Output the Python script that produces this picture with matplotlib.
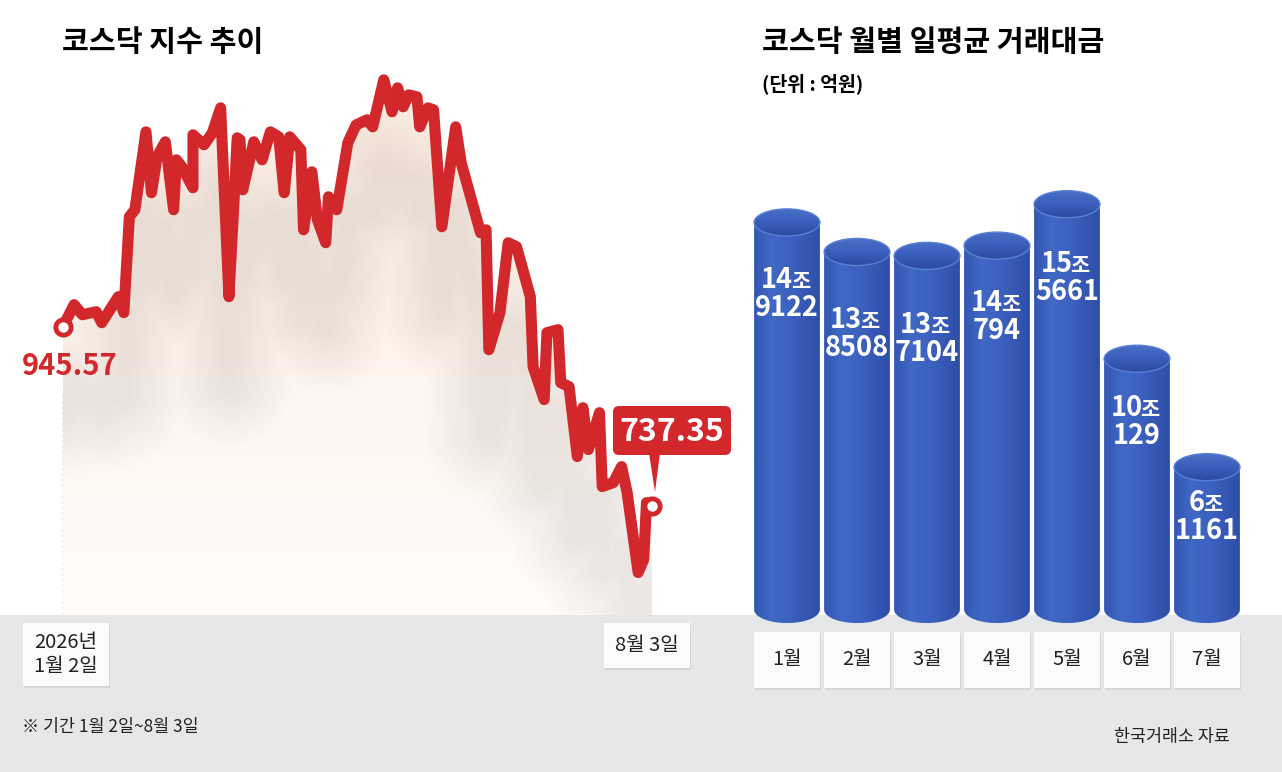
import matplotlib
matplotlib.use('Agg')
import numpy as np
import matplotlib.pyplot as plt
from matplotlib.patches import Rectangle, Ellipse, FancyBboxPatch, Polygon
from matplotlib.colors import LinearSegmentedColormap
from matplotlib.transforms import blended_transform_factory, ScaledTranslation
from matplotlib.textpath import TextPath
from matplotlib.font_manager import FontProperties

plt.rcParams['font.family'] = ['Noto Sans CJK KR', 'DejaVu Sans']

# KOSDAQ index, days since 2026-01-02
days = [0, 4, 7, 12, 14, 20, 22, 24, 26, 30, 32, 34, 37, 40, 41, 43, 47, 47,
        51, 54, 57, 60, 62, 63, 64, 65, 69, 72, 75, 78, 80, 82, 86, 87, 90,
        92, 95, 96, 99, 103, 106, 110, 112, 116, 119, 121, 123, 125, 128, 129,
        132, 134, 137, 142, 144, 151, 153, 154, 158, 161, 164, 169, 170, 174,
        175, 179, 180, 183, 186, 188, 190, 194, 195, 199, 202, 204, 208, 210,
        211, 213]
kosdaq = [945.57, 971.2, 959.5, 963.0, 950.2, 980.5, 961.9, 1073.5, 1081.7,
          1172.4, 1101.5, 1143.3, 1160.8, 1081.7, 1139.8, 1131.7, 1107.3,
          1168.9, 1157.3, 1171.2, 1200.3, 980.5, 1101.5, 1165.4, 1163.1,
          1104.9, 1160.8, 1139.8, 1172.4, 1166.6, 1101.5, 1166.6, 1151.5,
          1058.4, 1125.9, 1070.0, 1043.3, 1096.8, 1081.7, 1159.6, 1180.5,
          1186.4, 1178.2, 1232.9, 1195.7, 1223.6, 1201.5, 1215.4, 1213.1,
          1178.2, 1200.3, 1198.0, 1061.9, 1178.2, 1136.3, 1054.9, 1058.4,
          918.8, 961.9, 1043.3, 1038.6, 980.5, 899.0, 860.7, 938.6, 942.1,
          880.4, 875.8, 794.4, 851.3, 802.5, 845.5, 759.5, 764.1, 782.7,
          752.5, 659.4, 674.5, 740.8, 737.35]

# monthly average daily trading value (100 million won)
months = ['1월', '2월', '3월', '4월', '5월', '6월', '7월']
turnover = [149122, 138508, 137104, 140794, 155661, 100129, 61161]

RED = '#d3282b'
W, H = 1282, 772
fig = plt.figure(figsize=(W / 100, H / 100), dpi=100)


def px_axes(x0, y0, x1, y1):
    a = fig.add_axes([x0 / W, 1 - y1 / H, (x1 - x0) / W, (y1 - y0) / H])
    a.patch.set_alpha(0)
    a.axis('off')
    return a


bg = px_axes(0, 0, W, H)
bg.set_xlim(0, W)
bg.set_ylim(H, 0)
bg.add_patch(Rectangle((0, 615), W, H - 615, color='#e6e7e9', lw=0))

# ---- left: index line ----
ax = px_axes(63, 60, 652, 615)
ylo, yhi = 610, 1256
poly = ax.fill_between(days, kosdaq, ylo, color='none', lw=0)
clip = poly.get_paths()[0]
peach = LinearSegmentedColormap.from_list('p', ['#fffcfa', '#fef4ec', '#fdede2'])
im = ax.imshow(np.linspace(0, 1, 256).reshape(-1, 1), extent=[0, 213, ylo, yhi],
               origin='lower', aspect='auto', cmap=peach, zorder=1)
im.set_clip_path(clip, transform=ax.transData)
shadow = np.array(kosdaq) - 100
for lw in np.linspace(90, 12, 10):
    ln, = ax.plot(days, shadow, color='#8f7f7a', lw=lw, alpha=0.013,
                  solid_capstyle='round', solid_joinstyle='round', zorder=2)
    ln.set_clip_path(clip, transform=ax.transData)
ax.plot(days, kosdaq, color=RED, lw=8, solid_joinstyle='round',
        solid_capstyle='round', zorder=5, clip_on=False)
for d, v in [(days[0], kosdaq[0]), (days[-1], kosdaq[-1])]:
    ax.plot(d, v, 'o', ms=11, mfc='white', mec=RED, mew=3.5, zorder=6, clip_on=False)
ax.set_xlim(0, 213)
ax.set_ylim(ylo, yhi)

# overlay for labels
fg = px_axes(0, 0, W, H)
fg.set_xlim(0, W)
fg.set_ylim(H, 0)

fg.text(62, 42, '코스닥 지수 추이', fontsize=21, weight='heavy', va='center')
fg.text(70, 366, f'{kosdaq[0]:.2f}', color=RED, fontsize=21, weight='heavy',
        ha='center', va='center')
fg.add_patch(FancyBboxPatch((613, 406), 118, 49, boxstyle='round,pad=0,rounding_size=6',
                            fc=RED, ec='none', zorder=3))
fg.add_patch(Polygon([(649, 453), (660, 453), (655, 492)], closed=True, fc=RED, ec='none'))
fg.text(672, 432, f'{kosdaq[-1]:.2f}', color='white', fontsize=23, weight='heavy',
        ha='center', va='center', zorder=4)

bg.plot([63, 63], [395, 615], color='#9a9a9a', lw=1, ls=(0, (2, 2)))
bg.plot([650, 650], [585, 615], color='#9a9a9a', lw=1, ls=(0, (2, 2)))


def label_box(x0, y0, x1, y1, text, tr=None, axx=fg):
    if tr is None:
        tr = axx.transData
    sh = tr + ScaledTranslation(1 / 100, -2 / 100, fig.dpi_scale_trans)
    axx.add_patch(Rectangle((x0, y0), x1 - x0, y1 - y0, fc='#d4d5d7',
                            ec='none', transform=sh, clip_on=False, zorder=7))
    axx.add_patch(Rectangle((x0, y0), x1 - x0, y1 - y0, fc='#fbfbfb',
                            ec='none', transform=tr, clip_on=False, zorder=8))
    axx.text((x0 + x1) / 2, (y0 + y1) / 2, text, fontsize=14.5, ha='center',
             va='center', linespacing=1.15, transform=tr, zorder=9, color='#222222')


label_box(23, 623, 109, 686, '2026년\n1월 2일')
label_box(604, 623, 690, 668, '8월 3일')
fg.text(22, 727, '※ 기간 1월 2일~8월 3일', fontsize=12.5, va='center', color='#222222')
fg.text(1230, 737, '한국거래소 자료', fontsize=12.5, ha='right', va='center', color='#222222')

# ---- right: cylinders ----
fg.text(762, 42, '코스닥 월별 일평균 거래대금', fontsize=21, weight='heavy', va='center')
fg.text(762, 84, '(단위 : 억원)', fontsize=14, weight='bold', va='center')

ax2 = px_axes(752, 150, 1242, 625)
base = 10000
scale = 2.876e-3          # pixels per 억원
eh = 28 / scale           # ellipse height in data units
bw = 0.94

body = LinearSegmentedColormap.from_list(
    'b', ['#3356b2', '#4068c4', '#3d63c0', '#3759b6', '#2e4fa7'])
lid = LinearSegmentedColormap.from_list('l', ['#4a70c8', '#3a5ebb', '#2b4ba3'])
t = np.linspace(np.pi, 2 * np.pi, 40)
drops = [70, 80, 81, 70, 72, 62, 48]
fp_num = FontProperties(family='Noto Sans CJK KR', weight='bold', size=19.5)
fp_jo = FontProperties(family='Noto Sans CJK KR', weight='bold', size=15)
jo_w = TextPath((0, 0), '조', prop=fp_jo).get_extents().width

for i, v in enumerate(turnover):
    xs = [i - bw / 2, i - bw / 2] + list(i + bw / 2 * np.cos(t)) + [i + bw / 2]
    ys = [v, base] + list(base + eh / 2 * np.sin(t)) + [v]
    shape = Polygon(list(zip(xs, ys)), closed=True, fc='none', ec='none')
    ax2.add_patch(shape)
    g = ax2.imshow(np.linspace(0, 1, 64).reshape(1, -1),
                   extent=[i - bw / 2, i + bw / 2, base - eh / 2, v],
                   aspect='auto', cmap=body, zorder=3)
    g.set_clip_path(shape)
    top = Ellipse((i, v), bw, eh, fc='none', ec='#5880d3', lw=1.0, zorder=5)
    ax2.add_patch(top)
    gt = ax2.imshow(np.linspace(0, 1, 64).reshape(-1, 1),
                    extent=[i - bw / 2, i + bw / 2, v - eh / 2, v + eh / 2],
                    aspect='auto', cmap=lid, zorder=4)
    gt.set_clip_path(top)

    jo, rest = v // 10000, v % 10000
    num_w = TextPath((0, 0), str(jo), prop=fp_num).get_extents().width
    dx = (num_w - jo_w) / 2
    dy = -(drops[i] - 14) * 0.72 - 7
    ax2.annotate(str(jo), xy=(i, v), xytext=(dx, dy), textcoords='offset points',
                 ha='right', va='baseline', color='white', fontproperties=fp_num, zorder=6)
    ax2.annotate('조', xy=(i, v), xytext=(dx - 1.5, dy), textcoords='offset points',
                 ha='left', va='baseline', color='white', fontproperties=fp_jo, zorder=6)
    ax2.annotate(str(rest), xy=(i, v), xytext=(0, dy - 28 * 0.72), textcoords='offset points',
                 ha='center', va='baseline', color='white', fontproperties=fp_num, zorder=6)

ax2.set_xlim(-0.5, 6.5)
ax2.set_ylim(base - 16 / scale, base + 475 / scale)

mtr = blended_transform_factory(ax2.transData, fg.transData)
for i, m in enumerate(months):
    label_box(i - bw / 2, 632, i + bw / 2, 688, m, tr=mtr, axx=fg)

fig.savefig('out.png', dpi=100)
plt.close(fig)
